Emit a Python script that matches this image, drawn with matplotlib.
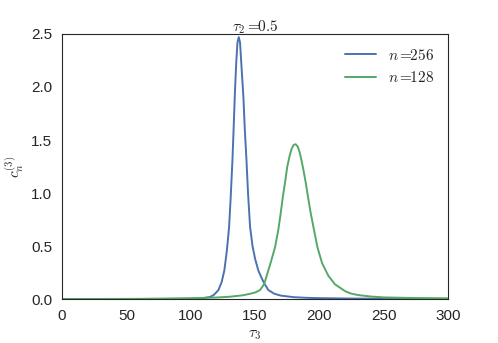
import numpy as np
import matplotlib
matplotlib.use("Agg")
import matplotlib.pyplot as plt
import seaborn as sns

# values
tau3_256 = [0, 60, 100, 110, 115, 118, 121.5, 124, 126.1, 128, 129.8, 131, 132.4, 133.3, 134.2,
            135.3, 136.3, 137.3, 138.3, 139.3, 140.9, 142, 143.3, 144.5, 146.1, 148, 150, 152.5,
            155, 157, 160.3, 165, 170, 180, 190, 200, 225, 250, 300]
c_256 = [0, 0.001, 0.004, 0.01, 0.02, 0.04, 0.085, 0.16, 0.27, 0.45, 0.68, 0.95, 1.31, 1.6, 1.91,
         2.22, 2.42, 2.47, 2.42, 2.22, 1.91, 1.6, 1.31, 1.0, 0.68, 0.5, 0.38, 0.27,
         0.2, 0.15, 0.085, 0.05, 0.033, 0.018, 0.012, 0.009, 0.005, 0.004, 0.002]

tau3_128 = [0, 50, 80, 100, 120, 130, 140, 146, 150, 153.8, 157, 159.5, 162.5, 165.5, 168, 169.9,
            171.5, 173.5, 175, 177, 178.5, 180, 181.5, 183, 184.5, 186, 187.5, 189.3, 191, 193.2,
            198.4, 202, 206.9, 212, 219.9, 224, 230, 240, 250, 270, 300]
c_128 = [0, 0.002, 0.004, 0.008, 0.015, 0.022, 0.035, 0.05, 0.062, 0.085, 0.14, 0.24, 0.36, 0.49,
         0.65, 0.81, 0.96, 1.12, 1.25, 1.36, 1.42, 1.455, 1.46, 1.44, 1.39, 1.31, 1.22, 1.1, 0.97,
         0.81, 0.49, 0.34, 0.22, 0.14, 0.075, 0.054, 0.038, 0.024, 0.016, 0.011, 0.007]

sns.set_style("white")
plt.rcParams['font.family'] = ['Liberation Sans', 'DejaVu Sans']
plt.rcParams['mathtext.fontset'] = 'cm'

fig = plt.figure(figsize=(4.98, 3.43), dpi=100)
ax = fig.add_axes([0.1245, 0.128, 0.7755, 0.773])
ax.plot(tau3_256, c_256, color='#4C72B0', lw=1.4, label=r'$n =\!\!256$')
ax.plot(tau3_128, c_128, color='#55A868', lw=1.4, label=r'$n =\!\!128$')
ax.set_xlim(0, 300)
ax.set_ylim(0, 2.5)
ax.set_xticks([0, 50, 100, 150, 200, 250, 300])
ax.set_yticks([0, 0.5, 1.0, 1.5, 2.0, 2.5])
ax.tick_params(labelsize=11, colors='#262626')
for s in ax.spines.values():
    s.set_color('#262626')
ax.set_title(r'$\tau_2 =\!\!0.5$', fontsize=11, pad=2)
ax.set_xlabel(r'$\tau_3$', fontsize=11)
ax.set_ylabel(r'$c_n^{(3)}$', fontsize=11)
ax.legend(loc='upper right', frameon=False, fontsize=11)
fig.savefig('out.png', dpi=100)
